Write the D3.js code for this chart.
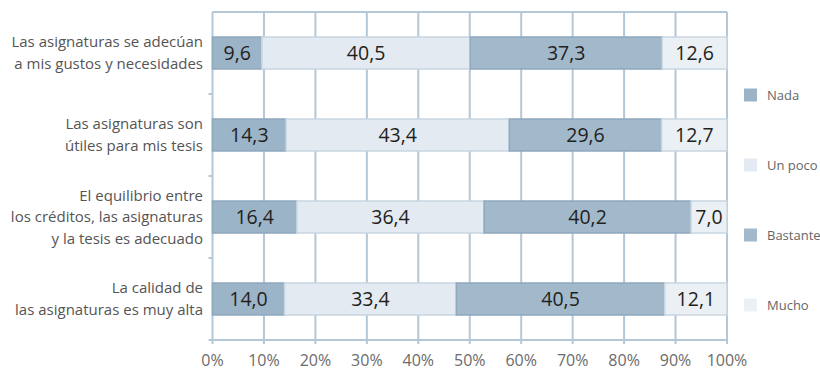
<!DOCTYPE html>
<html>
<head>
<meta charset="utf-8">
<script src="https://cdn.jsdelivr.net/npm/d3@7"></script>
<style>
  html, body { margin: 0; padding: 0; background: #ffffff; }
  svg { display: block; }
</style>
</head>
<body>
<svg id="chart" width="820" height="371"></svg>
<script>
// Category labels (one entry per bar, lines split by "\n")
const categories = [
  "Las asignaturas se adecúan\na mis gustos y necesidades",
  "Las asignaturas son\nútiles para mis tesis",
  "El equilibrio entre\nlos créditos, las asignaturas\ny la tesis es adecuado",
  "La calidad de\nlas asignaturas es muy alta"
];
const seriesNames = ["Nada", "Un poco", "Bastante", "Mucho"];
const nada     = [9.6, 14.3, 16.4, 14.0];
const unPoco   = [40.5, 43.4, 36.4, 33.4];
const bastante = [37.3, 29.6, 40.2, 40.5];
const mucho    = [12.6, 12.7, 7.0, 12.1];
const xTicks   = [0, 10, 20, 30, 40, 50, 60, 70, 80, 90, 100];

const fills   = ["#9cb4c8", "#e3eaf1", "#a2b9cc", "#ebf0f5"];
const strokes = ["#8ea8bc", "#c8d6e2", "#8ea8bc", "#c8d6e2"];
const gridColor = "#b3c7d7";

const rows = categories.map((c, i) => ({
  cat: c,
  "Nada": nada[i], "Un poco": unPoco[i], "Bastante": bastante[i], "Mucho": mucho[i]
}));

const svg = d3.select("#chart");
const plotLeft = 212.5, plotRight = 727, plotTop = 12, plotBottom = 340;

const x = d3.scaleLinear().domain([0, 100]).range([plotLeft, plotRight]);
const y = d3.scaleBand().domain(categories).range([plotTop, plotBottom])
  .paddingInner(0.61).paddingOuter(0.305);
const band = d3.scaleBand().domain(categories).range([plotTop, plotBottom]);

// Grid: vertical lines at every tick, extending a little below the axis
const grid = svg.append("g");
grid.selectAll("line.v").data(xTicks).join("line")
  .attr("x1", d => x(d)).attr("x2", d => x(d))
  .attr("y1", plotTop).attr("y2", plotBottom + 4)
  .attr("stroke", gridColor).attr("stroke-width", 2);
// top and bottom rules
grid.append("line").attr("x1", plotLeft).attr("x2", plotRight)
  .attr("y1", plotTop).attr("y2", plotTop)
  .attr("stroke", gridColor).attr("stroke-width", 2);
grid.append("line").attr("x1", plotLeft - 4).attr("x2", plotRight)
  .attr("y1", plotBottom).attr("y2", plotBottom)
  .attr("stroke", gridColor).attr("stroke-width", 2);
// small ticks on the left axis between categories
grid.selectAll("line.t").data(categories.slice(1)).join("line")
  .attr("x1", plotLeft - 4).attr("x2", plotLeft)
  .attr("y1", d => band(d)).attr("y2", d => band(d))
  .attr("stroke", gridColor).attr("stroke-width", 2);

// Stacked bars
const stack = d3.stack().keys(seriesNames);
const layers = stack(rows);

const gBars = svg.append("g");
layers.forEach((layer, si) => {
  const g = gBars.append("g");
  g.selectAll("rect").data(layer).join("rect")
    .attr("x", d => x(d[0]))
    .attr("y", d => y(d.data.cat))
    .attr("width", d => x(d[1]) - x(d[0]))
    .attr("height", y.bandwidth())
    .attr("fill", fills[si])
    .attr("stroke", strokes[si])
    .attr("stroke-width", 1.5);
  g.selectAll("text").data(layer).join("text")
    .attr("x", d => (x(d[0]) + x(d[1])) / 2)
    .attr("y", d => y(d.data.cat) + y.bandwidth() / 2 + 7)
    .attr("text-anchor", "middle")
    .attr("font-family", "'Open Sans', sans-serif")
    .attr("font-size", 19.5)
    .attr("fill", "#231f20")
    .text(d => d3.format(".1f")(d[1] - d[0]).replace(".", ","));
});

// Category labels
const gLab = svg.append("g");
categories.forEach(c => {
  const lines = c.split("\n");
  const cy = y(c) + y.bandwidth() / 2;
  const lh = 21.5;
  const t = gLab.append("text")
    .attr("text-anchor", "end")
    .attr("font-family", "'Open Sans', sans-serif")
    .attr("font-size", 15)
    .attr("fill", "#555555");
  lines.forEach((ln, i) => {
    t.append("tspan")
      .attr("x", 203)
      .attr("y", cy + 5 + (i - (lines.length - 1) / 2) * lh)
      .text(ln);
  });
});

// X axis labels
svg.append("g").selectAll("text").data(xTicks).join("text")
  .attr("x", d => x(d))
  .attr("y", 366)
  .attr("text-anchor", "middle")
  .attr("font-family", "'Open Sans', sans-serif")
  .attr("font-size", 16)
  .attr("fill", "#6b6b6b")
  .text(d => d + "%");

// Legend
const lg = svg.append("g");
seriesNames.forEach((s, i) => {
  const cy = 95 + i * 70;
  lg.append("rect").attr("x", 744).attr("y", cy - 6.5)
    .attr("width", 13).attr("height", 13)
    .attr("fill", fills[i]);
  lg.append("text").attr("x", 767).attr("y", cy + 4.5)
    .attr("font-family", "'Open Sans', sans-serif")
    .attr("font-size", 13)
    .attr("fill", "#666666")
    .text(s);
});
</script>
</body>
</html>
